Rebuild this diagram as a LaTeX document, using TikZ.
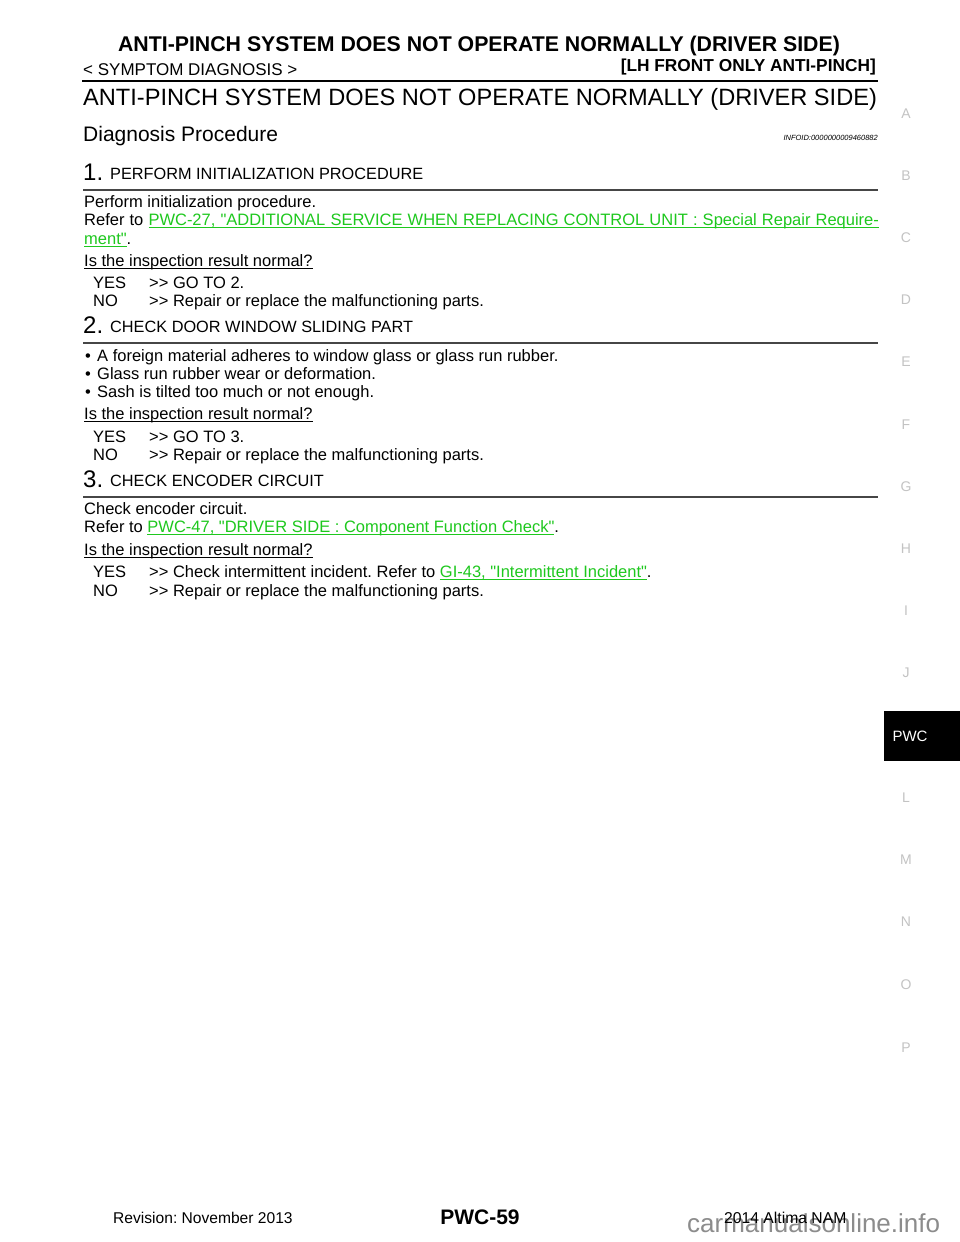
\documentclass[tikz,border=0pt]{standalone}
\usepackage{fontspec}
\setmainfont{Liberation Sans}[Ligatures=TeXOff]
\frenchspacing
\definecolor{linkgreen}{RGB}{30,200,30}
\definecolor{sidegray}{RGB}{195,195,195}
\definecolor{rulegray}{RGB}{70,70,70}
\definecolor{wmgray}{RGB}{140,140,140}
\newcommand\myul[1]{\setbox0\hbox{#1}\rlap{\rule[-2.4pt]{\wd0}{0.9pt}}\box0}
\newcommand\lnk[1]{\textcolor{linkgreen}{\myul{#1}}}
\tikzset{
  txt/.style={anchor=base west, inner sep=0pt, font=\fontsize{16.5}{19}\selectfont},
  headnum/.style={anchor=base west, inner sep=0pt, font=\fontsize{24}{26}\selectfont},
  headtxt/.style={anchor=base west, inner sep=0pt, font=\fontsize{16.3}{19}\selectfont},
  side/.style={anchor=center, inner sep=0pt, text=sidegray, font=\fontsize{14}{16}\selectfont},
  secrule/.style={draw=rulegray, line width=1.5pt},
}
\begin{document}
\begin{tikzpicture}[x=1pt,y=-1pt]
\useasboundingbox (0,0) rectangle (960,1242);
\fill[white] (0,0) rectangle (960,1242);
% header
\node[anchor=base, inner sep=0pt, font=\fontsize{21.3}{24}\selectfont\bfseries] (htitle) at (479,51) {ANTI-PINCH SYSTEM DOES NOT OPERATE NORMALLY (DRIVER SIDE)};
\node[anchor=base west, inner sep=0pt, font=\fontsize{17}{20}\selectfont] (hsym) at (83,75) {< SYMPTOM DIAGNOSIS >};
\node[anchor=base east, inner sep=0pt, font=\fontsize{17.3}{20}\selectfont\bfseries] (hlh) at (876,71) {[LH FRONT ONLY ANTI-PINCH]};
\coordinate (r0a) at (82,80.5);
\coordinate (r0b) at (878,80.5);
\draw[line width=2pt] (r0a) -- (r0b);
\node[anchor=base west, inner sep=0pt, font=\fontsize{23.6}{26}\selectfont] (mtitle) at (83,105) {ANTI-PINCH SYSTEM DOES NOT OPERATE NORMALLY (DRIVER SIDE)};
\node[anchor=base west, inner sep=0pt, font=\fontsize{21}{24}\selectfont] (dproc) at (83,141) {Diagnosis Procedure};
\node[anchor=base east, inner sep=0pt, font=\fontsize{7.5}{9}\selectfont\itshape] (infoid) at (878,140.5) {INFOID:0000000009460882};
% section 1
\node[headnum] (n1) at (83,180) {1.};
\node[headtxt] (h1) at (110,179) {PERFORM INITIALIZATION PROCEDURE};
\coordinate (r1a) at (83,190);
\coordinate (r1b) at (878,190);
\draw[secrule] (r1a) -- (r1b);
\node[txt] (s1a) at (84,207) {Perform initialization procedure.};
\node[txt] (s1b) at (84,225) {\spaceskip=5.1pt Refer to \lnk{PWC-27, "ADDITIONAL SERVICE WHEN REPLACING CONTROL UNIT : Special Repair Require-}};
\node[txt] (s1c) at (84,244) {\lnk{ment"}.};
\node[txt] (s1q) at (84,266) {\myul{Is the inspection result normal?}};
\node[txt] (s1y) at (93,288) {YES};
\node[txt] (s1ya) at (149,288) {>> GO TO 2.};
\node[txt] (s1n) at (93,306) {NO};
\node[txt] (s1na) at (149,306) {>> Repair or replace the malfunctioning parts.};
% section 2
\node[headnum] (n2) at (83,333) {2.};
\node[headtxt] (h2) at (110,332) {CHECK DOOR WINDOW SLIDING PART};
\coordinate (r2a) at (83,343);
\coordinate (r2b) at (878,343);
\draw[secrule] (r2a) -- (r2b);
\node[txt] (b1) at (85,361) {\textbullet};
\node[txt] (s2a) at (97,361) {A foreign material adheres to window glass or glass run rubber.};
\node[txt] (b2) at (85,379) {\textbullet};
\node[txt] (s2b) at (97,379) {Glass run rubber wear or deformation.};
\node[txt] (b3) at (85,397) {\textbullet};
\node[txt] (s2c) at (97,397) {Sash is tilted too much or not enough.};
\node[txt] (s2q) at (84,419) {\myul{Is the inspection result normal?}};
\node[txt] (s2y) at (93,442) {YES};
\node[txt] (s2ya) at (149,442) {>> GO TO 3.};
\node[txt] (s2n) at (93,460) {NO};
\node[txt] (s2na) at (149,460) {>> Repair or replace the malfunctioning parts.};
% section 3
\node[headnum] (n3) at (83,487) {3.};
\node[headtxt] (h3) at (110,486) {CHECK ENCODER CIRCUIT};
\coordinate (r3a) at (83,497);
\coordinate (r3b) at (878,497);
\draw[secrule] (r3a) -- (r3b);
\node[txt] (s3a) at (84,514) {Check encoder circuit.};
\node[txt] (s3b) at (84,532) {Refer to \lnk{PWC-47, "DRIVER SIDE : Component Function Check"}.};
\node[txt] (s3q) at (84,555) {\myul{Is the inspection result normal?}};
\node[txt] (s3y) at (93,577) {YES};
\node[txt] (s3ya) at (149,577) {>> Check intermittent incident. Refer to \lnk{GI-43, "Intermittent Incident"}.};
\node[txt] (s3n) at (93,596) {NO};
\node[txt] (s3na) at (149,596) {>> Repair or replace the malfunctioning parts.};
% side index
\node[side] (sA) at (906,114) {A};
\node[side] (sB) at (906,176) {B};
\node[side] (sC) at (906,238) {C};
\node[side] (sD) at (906,300) {D};
\node[side] (sE) at (906,362) {E};
\node[side] (sF) at (906,425) {F};
\node[side] (sG) at (906,487) {G};
\node[side] (sH) at (906,549) {H};
\node[side] (sI) at (906,611) {I};
\node[side] (sJ) at (906,673) {J};
\fill[black] (884,711) rectangle (960,761);
\node[anchor=center, inner sep=0pt, text=white, font=\fontsize{15}{17}\selectfont] (pwc) at (910,736) {PWC};
\node[side] (sL) at (906,798) {L};
\node[side] (sM) at (906,860) {M};
\node[side] (sN) at (906,922) {N};
\node[side] (sO) at (906,985) {O};
\node[side] (sP) at (906,1048) {P};
% footer
\node[anchor=base west, inner sep=0pt, text=wmgray, font=\fontsize{26}{30}\selectfont] (wm) at (687,1232) {carmanualsonline.info};
\node[anchor=base west, inner sep=0pt, font=\fontsize{15.6}{18}\selectfont] (rev) at (113,1223) {Revision: November 2013};
\node[anchor=base, inner sep=0pt, font=\fontsize{21}{24}\selectfont\bfseries] (pg) at (480,1224) {PWC-59};
\node[anchor=base west, inner sep=0pt, font=\fontsize{15.7}{18}\selectfont] (alt) at (724,1223) {2014 Altima NAM};
\end{tikzpicture}
\end{document}
